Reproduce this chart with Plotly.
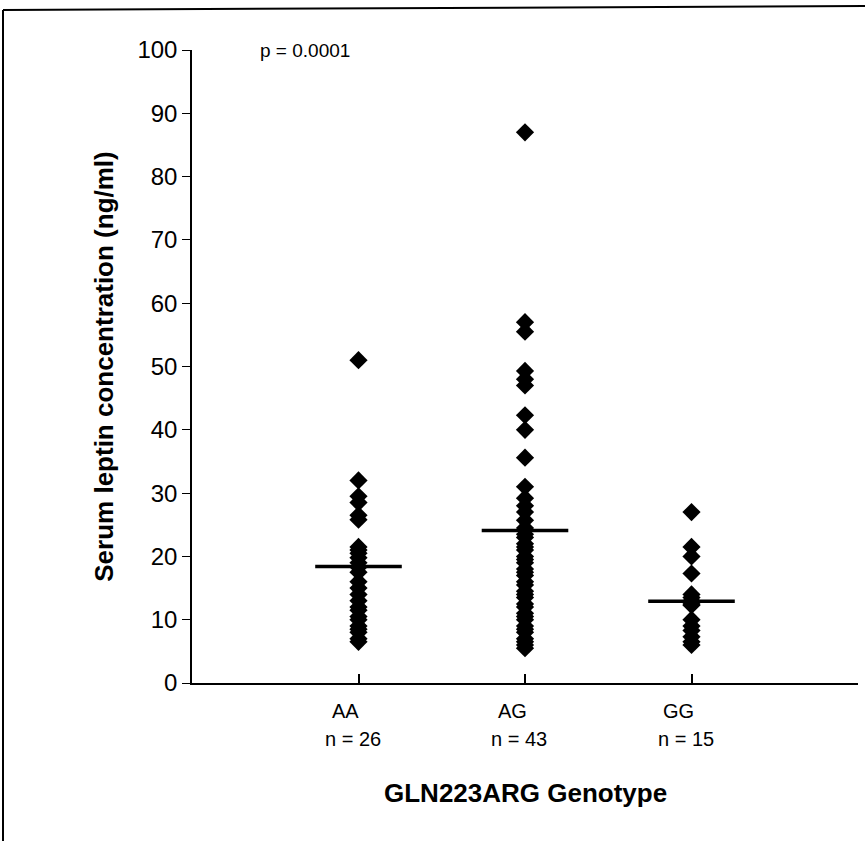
import plotly.graph_objects as go

genotypes = ["AA", "AG", "GG"]
n_labels = ["n = 26", "n = 43", "n = 15"]
x_pos = [1, 2, 3]

aa_values = [51, 32, 29.5, 28.5, 26.5, 25.8, 21.5, 21, 20.5, 19.8, 19, 18.3, 17.5,
             16, 15, 14, 13, 12, 11.5, 10.5, 10, 9, 8.5, 8, 7, 6.5]
ag_values = [87, 57, 55.5, 49.3, 48, 47, 42.3, 40, 35.6, 31, 29.2, 28, 27, 25.7, 24.5,
             23.5, 23, 22, 21.5, 21, 20, 19.5, 19, 18, 17.5, 17, 16, 15.5, 14.5,
             14, 13.5, 12.5, 12, 11, 10.5, 10, 9, 8.5, 8, 7, 6.5, 6, 5.5]
gg_values = [27, 21.5, 20, 17.3, 14, 13.5, 13, 12.5, 12.3, 10, 9, 8.3, 7.3, 6.5, 6]
group_means = [18.4, 24.1, 12.9]

y_ticks = [0, 10, 20, 30, 40, 50, 60, 70, 80, 90, 100]

FONT = "Liberation Sans, Arial, sans-serif"

fig = go.Figure()
for xp, vals in zip(x_pos, [aa_values, ag_values, gg_values]):
    fig.add_trace(go.Scatter(
        x=[xp] * len(vals), y=vals, mode="markers",
        marker=dict(symbol="diamond", size=14, color="black", line=dict(width=0)),
        showlegend=False, hoverinfo="y"))

half_w = 0.26
for xp, m in zip(x_pos, group_means):
    fig.add_trace(go.Scatter(
        x=[xp - half_w, xp + half_w], y=[m, m], mode="lines",
        line=dict(color="black", width=3.5), showlegend=False, hoverinfo="skip"))

annotations = []
for xp, g, n in zip(x_pos, genotypes, n_labels):
    annotations.append(dict(x=xp, y=0, xref="x", yref="y", text=g, showarrow=False,
                            xanchor="center", yanchor="middle", yshift=-28, xshift=-13,
                            font=dict(family=FONT, size=20, color="black")))
    annotations.append(dict(x=xp, y=0, xref="x", yref="y", text=n, showarrow=False,
                            xanchor="center", yanchor="middle", yshift=-56, xshift=-6,
                            font=dict(family=FONT, size=20, color="black")))
annotations.append(dict(x=0.396, y=100, xref="x", yref="y", text="p = 0.0001", showarrow=False,
                        xanchor="left", yanchor="middle",
                        font=dict(family=FONT, size=19, color="black")))
annotations.append(dict(x=2, y=0, xref="x", yref="y", text="<b>GLN223ARG Genotype</b>",
                        showarrow=False, xanchor="center", yanchor="middle", yshift=-110,
                        font=dict(family=FONT, size=26, color="black")))

fig.update_layout(
    width=865, height=841,
    margin=dict(l=192, r=7, t=50, b=158),
    paper_bgcolor="white", plot_bgcolor="white",
    font=dict(family=FONT, color="black"),
    annotations=annotations,
    shapes=[
        dict(type="line", xref="paper", yref="paper", x0=-189/666, x1=1.02, y0=1 + 40/633, y1=1 + 44/633,
             line=dict(color="black", width=2)),
        dict(type="line", xref="paper", yref="paper", x0=-189/666, x1=-189/666, y0=1 + 40/633, y1=-160/633,
             line=dict(color="black", width=2)),
    ],
    xaxis=dict(range=[0, 4], tickvals=[1, 2, 3, 4], ticktext=["", "", "", ""],
               showline=True, linecolor="black", linewidth=1.5, ticks="inside",
               ticklen=9, tickwidth=1.5, tickcolor="black", showgrid=False, zeroline=False,
               fixedrange=True),
    yaxis=dict(range=[0, 100], tickvals=y_ticks, showline=True, linecolor="black",
               linewidth=1.5, ticks="outside", ticklen=8, tickwidth=1.2, tickcolor="black",
               showgrid=False, zeroline=False, tickfont=dict(family=FONT, size=24, color="black"),
               title=dict(text="<b>Serum leptin concentration (ng/ml)</b>",
                          font=dict(family=FONT, size=26, color="black"), standoff=16),
               fixedrange=True),
)

fig.write_html("out.html", config={"displayModeBar": False},
               post_script="document.body.style.margin='0';")
